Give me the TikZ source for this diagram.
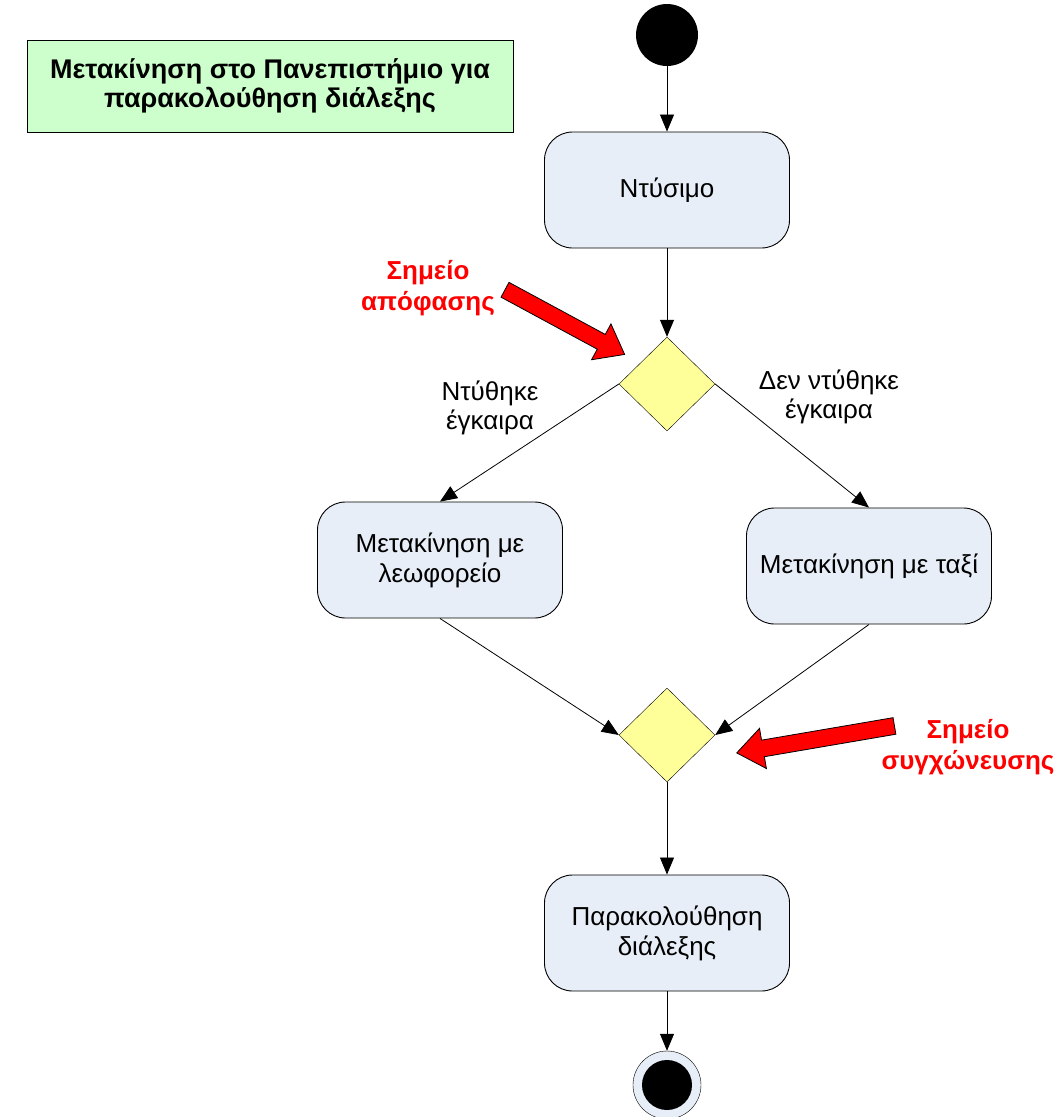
\documentclass[tikz,border=0pt]{standalone}
\usepackage{fontspec}
\setmainfont{Liberation Sans}
\usetikzlibrary{arrows.meta,shapes.geometric,shapes.arrows}
\definecolor{actfill}{HTML}{E8EEF7}
\definecolor{decfill}{HTML}{FFFF99}
\definecolor{notefill}{HTML}{CCFFCC}
\definecolor{hotred}{HTML}{FF0000}
\begin{document}
\begin{tikzpicture}[x=1pt, y=-1pt,
    act/.style={draw, rounded corners=28pt, fill=actfill, minimum width=245pt,
      minimum height=116pt, align=center, line width=0.9pt, font=\fontsize{26}{30}\selectfont},
    dec/.style={draw, diamond, fill=decfill, minimum width=96pt, minimum height=94pt, inner sep=0pt},
    flow/.style={-{Triangle[length=17pt,width=14pt]}, line width=0.8pt},
    guard/.style={align=center, font=\fontsize{26}{29}\selectfont},
    hint/.style={single arrow, draw, fill=hotred, inner sep=8pt, single arrow head extend=12pt,
      single arrow tip angle=75, line width=0.8pt},
    hinttext/.style={align=center, text=hotred, font=\fontsize{26}{31}\selectfont\bfseries}]
  \useasboundingbox (0,0) rectangle (1059,1117);
  % title note
  \node [draw, fill=notefill, minimum width=486pt, minimum height=92pt, align=center,
    font=\fontsize{27}{29}\selectfont\bfseries] (title) at (270,86)
    {Μετακίνηση στο Πανεπιστήμιο για\\παρακολούθηση διάλεξης};
  % activities
  \node [circle, fill=black, minimum size=62pt] (start) at (667,35) {};
  \node [act] (dress) at (667,190) {Ντύσιμο};
  \node [dec] (choice) at (667,384) {};
  \node [act] (bus) at (440,560) {Μετακίνηση με\\λεωφορείο};
  \node [act] (taxi) at (869,566) {Μετακίνηση με ταξί};
  \node [dec] (merge) at (667,735) {};
  \node [act] (attend) at (667,933) {Παρακολούθηση\\διάλεξης};
  \node [circle, draw, fill=actfill, minimum size=68pt] (final) at (667,1085) {};
  \node [circle, fill=black, minimum size=50pt] (finaldot) at (final) {};
  % flows
  \draw [flow] (start) -- (dress);
  \draw [flow] (dress) -- (choice.north);
  \draw [flow] (choice.west) -- (bus.north);
  \draw [flow] (choice.east) -- (taxi.north);
  \draw [flow] (bus.south) -- (merge.west);
  \draw [flow] (taxi.south) -- (merge.east);
  \draw [flow] (merge.south) -- (attend);
  \draw [flow] (attend) -- (final);
  \node [guard] (intime) at (490,408) {Ντύθηκε\\έγκαιρα};
  \node [guard] (late) at (829,397) {Δεν ντύθηκε\\έγκαιρα};
  % red pointers
  \node [hint, minimum height=136pt, rotate=-28.4] (choicearrow) at (560,319.5) {};
  \node [hinttext] (choicetext) at (428,288) {Σημείο\\απόφασης};
  \node [hint, minimum height=160pt, rotate=189.7] (mergearrow) at (821,738.5) {};
  \node [hinttext] (mergetext) at (968,747) {Σημείο\\συγχώνευσης};
\end{tikzpicture}
\end{document}
